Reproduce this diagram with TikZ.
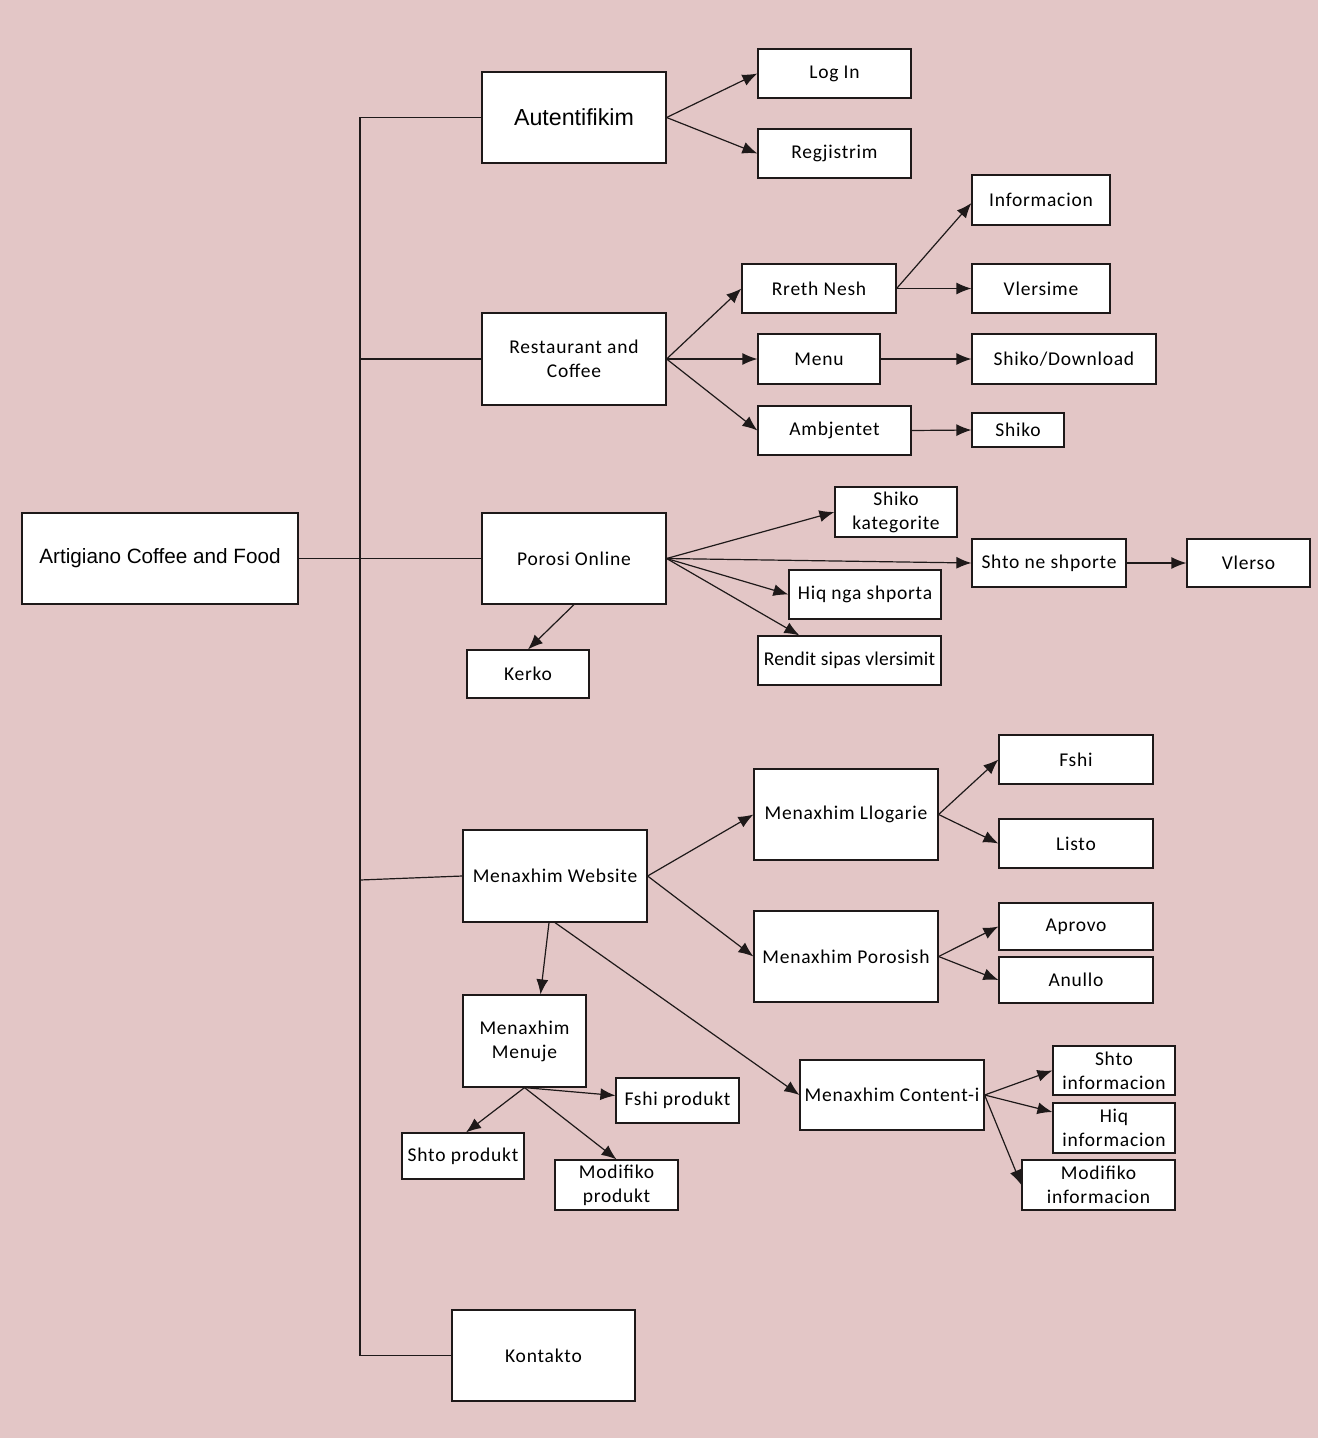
\documentclass[tikz,border=0pt]{standalone}
\usepackage{fontspec}
\setmainfont{Carlito}
\newfontfamily\arialfont{Liberation Sans}
\usetikzlibrary{arrows.meta}
\definecolor{bgpink}{RGB}{227,198,198}
\definecolor{lineco}{RGB}{30,25,25}
\begin{document}
\begin{tikzpicture}[x=1pt,y=-1pt,
  box/.style={draw=lineco,line width=1.2pt,fill=white,inner sep=0pt,align=center,
    font=\addfontfeatures{LetterSpace=4}\fontsize{19.5}{24}\selectfont},
  conn/.style={draw=lineco,line width=1.2pt},
  arr/.style={conn,-{Latex[length=15pt,width=12pt]}}]
\fill[bgpink] (0,0) rectangle (1318,1438);
\useasboundingbox (0,0) rectangle (1318,1438);
% nodes
\node[box,minimum width=276pt,minimum height=91pt,font=\arialfont\fontsize{20.7}{24}\selectfont] (root) at (160,558.5) {Artigiano Coffee and Food};
\node[box,minimum width=184pt,minimum height=91pt,font=\arialfont\fontsize{23.2}{26}\selectfont] (aut) at (574,117.5) {Autentifikim};
\node[box,minimum width=153pt,minimum height=49pt] (login) at (834.5,73.5) {Log In};
\node[box,minimum width=153pt,minimum height=49pt] (regj) at (834.5,153.5) {Regjistrim};
\node[box,minimum width=184pt,minimum height=92pt] (rest) at (574,359) {Restaurant and\\Coffee};
\node[box,minimum width=154pt,minimum height=49pt] (rreth) at (819,288.5) {Rreth Nesh};
\node[box,minimum width=122pt,minimum height=50pt] (menu) at (819,359) {Menu};
\node[box,minimum width=153pt,minimum height=49pt] (ambj) at (834.5,430.5) {Ambjentet};
\node[box,minimum width=138pt,minimum height=50pt] (info) at (1041,200) {Informacion};
\node[box,minimum width=138pt,minimum height=49pt] (vlersime) at (1041,288.5) {Vlersime};
\node[box,minimum width=184pt,minimum height=50pt] (shikodl) at (1064,359) {Shiko/Download};
\node[box,minimum width=92pt,minimum height=34pt] (shiko) at (1018,430) {Shiko};
\node[box,minimum width=184pt,minimum height=91pt] (porosi) at (574,558.5) {Porosi Online};
\node[box,minimum width=122pt,minimum height=48pt] (kerko) at (528,674) {Kerko};
\node[box,minimum width=122pt,minimum height=50pt] (shikokat) at (896,512) {Shiko\\kategorite};
\node[box,minimum width=154pt,minimum height=48pt] (shtoshp) at (1049,563) {Shto ne shporte};
\node[box,minimum width=123pt,minimum height=48pt] (vlerso) at (1248.5,563) {Vlerso};
\node[box,minimum width=152pt,minimum height=49pt] (hiq) at (865,594.5) {Hiq nga shporta};
\node[box,minimum width=183pt,minimum height=49pt,font=\addfontfeatures{LetterSpace=1}\fontsize{19.5}{24}\selectfont] (rendit) at (849.5,660.5) {Rendit sipas vlersimit};
\node[box,minimum width=184pt,minimum height=92pt] (mweb) at (555,876) {Menaxhim Website};
\node[box,minimum width=184pt,minimum height=91pt] (mllog) at (846,814.5) {Menaxhim Llogarie};
\node[box,minimum width=154pt,minimum height=49pt] (fshi) at (1076,759.5) {Fshi};
\node[box,minimum width=154pt,minimum height=49pt] (listo) at (1076,843.5) {Listo};
\node[box,minimum width=184pt,minimum height=91pt] (mpor) at (846,956.5) {Menaxhim Porosish};
\node[box,minimum width=154pt,minimum height=47pt] (aprovo) at (1076,926.5) {Aprovo};
\node[box,minimum width=154pt,minimum height=46pt] (anullo) at (1076,980) {Anullo};
\node[box,minimum width=123pt,minimum height=92pt] (mmenu) at (524.5,1041) {Menaxhim\\Menuje};
\node[box,minimum width=184pt,minimum height=70pt] (mcont) at (892,1095) {Menaxhim Content-i};
\node[box,minimum width=122pt,minimum height=49pt] (shtoinfo) at (1114,1070.5) {Shto\\informacion};
\node[box,minimum width=122pt,minimum height=50pt] (hiqinfo) at (1114,1128) {Hiq\\informacion};
\node[box,minimum width=153pt,minimum height=50pt] (modinfo) at (1098.5,1185) {Modifiko\\informacion};
\node[box,minimum width=122pt,minimum height=46pt] (shtoprod) at (463,1156) {Shto produkt};
\node[box,minimum width=123pt,minimum height=50pt] (modprod) at (616.5,1185) {Modifiko\\produkt};
\node[box,minimum width=123pt,minimum height=45pt] (fshiprod) at (677.5,1100.5) {Fshi produkt};
\node[box,minimum width=183pt,minimum height=91pt] (kont) at (543.5,1355.5) {Kontakto};
% bus
\coordinate (bt) at (360,117.5);
\coordinate (bb) at (360,1355.5);
\coordinate (bw) at (360,880);
\draw[conn] (aut.west) -- (bt) -- (bb) -- (kont.west);
\draw[conn] (rest.west) -- (rest.west -| bt);
\draw[conn] (root.east) -- (porosi.west);
\draw[conn] (mweb.west) -- (bw);
% arrows
\draw[arr] (aut.east) -- (login.west);
\draw[arr] (aut.east) -- (regj.west);
\draw[arr] (rest.east) -- (rreth.west);
\draw[arr] (rest.east) -- (menu.west);
\draw[arr] (rest.east) -- (ambj.west);
\draw[arr] (rreth.east) -- ([yshift=-3pt]info.west);
\draw[arr] (rreth.east) -- (vlersime.west);
\draw[arr] (menu.east) -- (shikodl.west);
\draw[arr] (ambj.east) -- (shiko.west);
\draw[arr] (porosi.south) -- (kerko.north);
\draw[arr] (porosi.east) -- (shikokat.west);
\draw[arr] (porosi.east) -- (shtoshp.west);
\draw[arr] (shtoshp.east) -- (vlerso.west);
\draw[arr] (porosi.east) -- (hiq.west);
\draw[arr] (porosi.east) -- ([xshift=42pt]rendit.north west);
\draw[arr] (mweb.east) -- (mllog.west);
\draw[arr] (mweb.east) -- (mpor.west);
\draw[arr] (mllog.east) -- (fshi.west);
\draw[arr] (mllog.east) -- (listo.west);
\draw[arr] (mpor.east) -- (aprovo.west);
\draw[arr] (mpor.east) -- (anullo.west);
\draw[arr] ([xshift=-6pt]mweb.south) -- ([xshift=16pt]mmenu.north);
\draw[arr] (mweb.south) -- (mcont.west);
\draw[arr] (mmenu.south) -- ([yshift=5pt]fshiprod.west);
\draw[arr] (mmenu.south) -- ([xshift=3pt]shtoprod.north);
\draw[arr] (mmenu.south) -- (modprod.north);
\draw[arr] (mcont.east) -- (shtoinfo.west);
\draw[arr] (mcont.east) -- ([yshift=16pt]hiqinfo.west);
\draw[arr] (mcont.east) -- (modinfo.west);
\end{tikzpicture}
\end{document}
